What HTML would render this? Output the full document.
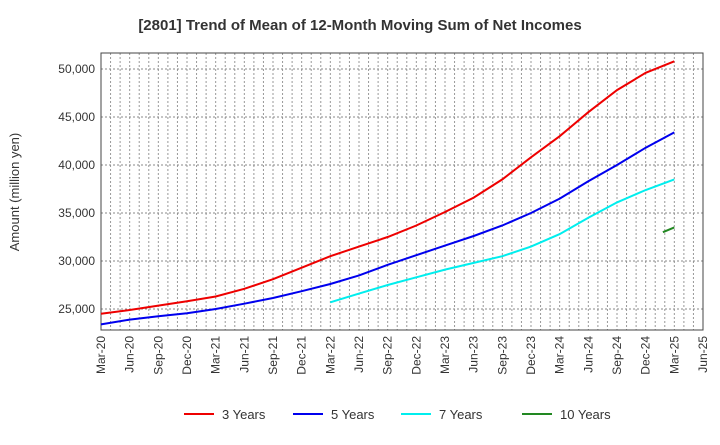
<!DOCTYPE html>
<html><head><meta charset="utf-8"><style>
body{margin:0;background:#fff;font-family:"Liberation Sans",Arial,sans-serif;}
svg text{font-family:"Liberation Sans",Arial,sans-serif;}
</style></head><body>
<svg id="chart" width="720" height="440" xmlns="http://www.w3.org/2000/svg">
<text x="360" y="30" text-anchor="middle" font-size="15" font-weight="bold" fill="#333">[2801]  Trend of Mean of 12-Month Moving Sum of Net Incomes</text>
<text transform="translate(19,192) rotate(-90)" text-anchor="middle" font-size="13" fill="#333">Amount (million yen)</text>
<g id="grid"></g><g id="axes"></g><g id="series"></g><g id="legend"></g>
</svg>
<script>
const xLabels=["Mar-20","Jun-20","Sep-20","Dec-20","Mar-21","Jun-21","Sep-21","Dec-21","Mar-22","Jun-22","Sep-22","Dec-22","Mar-23","Jun-23","Sep-23","Dec-23","Mar-24","Jun-24","Sep-24","Dec-24","Mar-25","Jun-25"];
const yTicks=[25000,30000,35000,40000,45000,50000];
const s3=[24500,24900,25350,25800,26300,27100,28100,29300,30500,31500,32500,33700,35100,36600,38500,40800,43000,45500,47800,49600,50800];
const s5=[23400,23900,24250,24550,25000,25550,26150,26850,27600,28500,29600,30600,31600,32600,33700,35000,36500,38300,40000,41800,43400];
const s7=[null,null,null,null,null,null,null,null,25700,26600,27500,28300,29100,29800,30500,31500,32800,34500,36100,37400,38500];
const s10=[33000,33500];
const s10pos=[19.6,20];
const names=["3 Years","5 Years","7 Years","10 Years"];
const colors=["#e00","#00e","#0ee","#282"];
const L=101,R=703,T=53,B=330;
const X=i=>L+(R-L)*i/21;
const Y=v=>309-(v-25000)*48/5000;
const NS="http://www.w3.org/2000/svg";
function mk(p,t,a){const e=document.createElementNS(NS,t);for(const k in a)e.setAttribute(k,a[k]);p.appendChild(e);return e;}
const grid=document.getElementById('grid'),axes=document.getElementById('axes'),ser=document.getElementById('series'),leg=document.getElementById('legend');
for(let m=1;m<63;m++){const x=L+(R-L)*m/63;const l=mk(grid,'line',{x1:x,x2:x,y1:T,y2:B,stroke:'#999','stroke-dasharray':'2,2','stroke-width':1});

}
yTicks.forEach(v=>{const y=Y(v);const l=mk(grid,'line',{x1:L,x2:R,y1:y,y2:y,stroke:'#888','stroke-dasharray':'2,2','stroke-width':1});


const t=mk(axes,'text',{x:L-6,y:y+4,'text-anchor':'end','font-size':12,fill:'#333'});t.textContent=v.toLocaleString('en-US');

});
const fr=mk(axes,'rect',{x:L,y:T,width:R-L,height:B-T,fill:'none',stroke:'#444','stroke-width':1});


xLabels.forEach((s,i)=>{const x=X(i);const t=mk(axes,'text',{transform:`translate(${x+4},${B+6}) rotate(-90)`,'text-anchor':'end','font-size':12,fill:'#333'});t.textContent=s;

});
const allS=[s3,s5,s7,s10];
allS.forEach((arr,k)=>{let d='';arr.forEach((v,i)=>{if(v==null)return;const xi=(k===3)?s10pos[i]:i;d+=(d?'L':'M')+X(xi).toFixed(1)+','+Y(v).toFixed(1);});
const p=mk(ser,'path',{d:d,fill:'none',stroke:colors[k],'stroke-width':2});


const lx=[184,293,401,522][k];
const g=mk(leg,'g',{});


mk(g,'line',{x1:lx,x2:lx+30,y1:414,y2:414,stroke:colors[k],'stroke-width':2});
const t=mk(g,'text',{x:lx+38,y:419,'font-size':13,fill:'#333'});t.textContent=names[k];});
</script>
</body></html>
